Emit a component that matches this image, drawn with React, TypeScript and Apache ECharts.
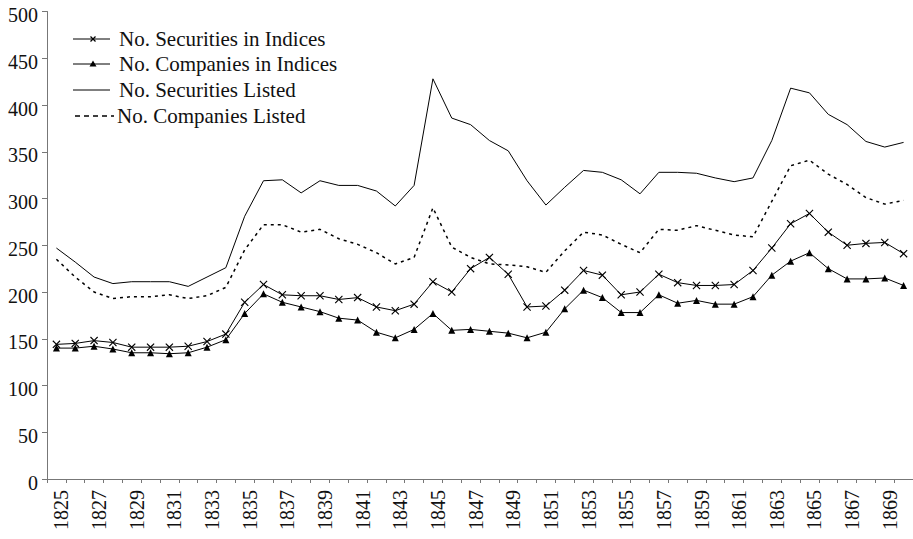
import React, { useEffect, useRef } from "react";
import * as echarts from "echarts";

const years: string[] = [];
for (let y = 1825; y <= 1870; y++) years.push(String(y));

const securitiesInIndices = [
  144, 145, 148, 146, 141, 141, 141, 142, 147, 155,
  189, 208, 197, 196, 196, 192, 194, 184, 180, 187,
  211, 200, 225, 237, 219, 184, 185, 202, 223, 218,
  197, 200, 219, 210, 207, 207, 208, 223, 247, 273,
  284, 264, 250, 252, 253, 241,
];

const companiesInIndices = [
  140, 140, 142, 139, 135, 135, 134, 135, 141, 149,
  177, 198, 189, 184, 179, 172, 170, 157, 151, 160,
  177, 159, 160, 158, 156, 151, 157, 182, 202, 194,
  178, 178, 197, 188, 191, 187, 187, 195, 218, 233,
  242, 225, 214, 214, 215, 207,
];

const securitiesListed = [
  247, 232, 216, 209, 211, 211, 211, 206, 216, 226,
  281, 319, 320, 306, 319, 314, 314, 308, 292, 314,
  428, 386, 379, 362, 351, 319, 293, 312, 330, 328,
  320, 305, 328, 328, 327, 322, 318, 322, 362, 418,
  413, 390, 379, 361, 355, 360,
];

const companiesListed = [
  235, 216, 200, 193, 195, 195, 197, 193, 196, 205,
  245, 272, 272, 264, 267, 257, 251, 242, 230, 237,
  290, 248, 237, 230, 229, 227, 221, 244, 264, 261,
  251, 242, 267, 266, 271, 266, 261, 259, 297, 335,
  341, 326, 315, 301, 294, 298,
];

const seriesNames = [
  "No. Securities in Indices",
  "No. Companies in Indices",
  "No. Securities Listed",
  "No. Companies Listed",
];

const FONT = "'Liberation Serif', 'Times New Roman', serif";
const CROSS =
  "path://M0,1L1,0L5,4L9,0L10,1L6,5L10,9L9,10L5,6L1,10L0,9L4,5Z";

function legendGraphic() {
  const rows = [39, 64, 90, 116];
  const els: any[] = [];
  rows.forEach((y, i) => {
    if (i < 3) {
      els.push({
        type: "line",
        shape: { x1: 73, y1: y, x2: 110, y2: y },
        style: { stroke: "#000", lineWidth: 1 },
      });
    } else {
      els.push({
        type: "line",
        shape: { x1: 75, y1: y, x2: 114, y2: y },
        style: { stroke: "#000", lineWidth: 1.5, lineDash: [5, 4] },
      });
    }
    if (i === 0) {
      els.push({
        type: "line",
        shape: { x1: 90.5, y1: y - 2.5, x2: 95.5, y2: y + 2.5 },
        style: { stroke: "#000", lineWidth: 1.2 },
      });
      els.push({
        type: "line",
        shape: { x1: 90.5, y1: y + 2.5, x2: 95.5, y2: y - 2.5 },
        style: { stroke: "#000", lineWidth: 1.2 },
      });
    }
    if (i === 1) {
      els.push({
        type: "polygon",
        shape: { points: [[93, y - 3.5], [96.5, y + 2.5], [89.5, y + 2.5]] },
        style: { fill: "#000" },
      });
    }
    els.push({
      type: "text",
      x: i < 3 ? 119 : 117,
      y,
      style: {
        text: seriesNames[i],
        fontFamily: FONT,
        fontSize: 21,
        fill: "#111",
        verticalAlign: "middle",
        align: "left",
      },
    });
  });
  return els;
}

export default function App() {
  const ref = useRef<HTMLDivElement>(null);
  useEffect(() => {
    document.body.style.margin = "0";
    if (!ref.current) return;
    const chart = echarts.init(ref.current, undefined, { renderer: "svg" });
    chart.setOption({
      animation: false,
      backgroundColor: "#fff",
      grid: { left: 47, right: -4.5, top: 11.5, bottom: 60, containLabel: false },
      graphic: legendGraphic(),
      xAxis: {
        type: "category",
        data: years,
        boundaryGap: true,
        axisLine: { lineStyle: { color: "#777", width: 1 } },
        axisTick: { show: true, interval: 0, length: 4, lineStyle: { color: "#777" } },
        axisLabel: {
          interval: 1,
          rotate: 90,
          margin: 11,
          verticalAlign: "top",
          lineHeight: 10,
          fontFamily: FONT,
          fontSize: 20,
          color: "#111",
        },
        splitLine: { show: false },
      },
      yAxis: {
        type: "value",
        min: 0,
        max: 500,
        interval: 50,
        axisLine: { show: true, lineStyle: { color: "#777", width: 1 } },
        axisTick: { show: true, length: 5, lineStyle: { color: "#777" } },
        axisLabel: {
          margin: 9,
          verticalAlign: "top",
          lineHeight: 7,
          fontFamily: FONT,
          fontSize: 20,
          color: "#111",
        },
        splitLine: { show: false },
      },
      series: [
        {
          name: seriesNames[0],
          type: "line",
          data: securitiesInIndices,
          symbol: CROSS,
          symbolSize: 8,
          showAllSymbol: true,
          lineStyle: { color: "#000", width: 1 },
          itemStyle: { color: "#000" },
        },
        {
          name: seriesNames[1],
          type: "line",
          data: companiesInIndices,
          symbol: "triangle",
          symbolSize: 7,
          showAllSymbol: true,
          lineStyle: { color: "#000", width: 1 },
          itemStyle: { color: "#000" },
        },
        {
          name: seriesNames[2],
          type: "line",
          data: securitiesListed,
          symbol: "none",
          lineStyle: { color: "#000", width: 1 },
          itemStyle: { color: "#000" },
        },
        {
          name: seriesNames[3],
          type: "line",
          data: companiesListed,
          symbol: "none",
          lineStyle: { color: "#000", width: 1.5, type: [3, 4] },
          itemStyle: { color: "#000" },
        },
      ],
    });
    return () => chart.dispose();
  }, []);
  return <div ref={ref} style={{ width: 913, height: 539 }} />;
}
